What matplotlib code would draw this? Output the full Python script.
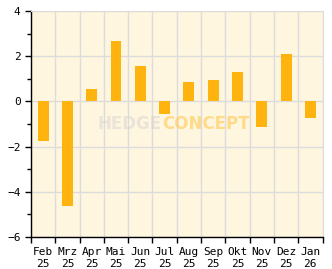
#!/usr/bin/env python
"""Monthly performance bar chart (HedgeConcept style)."""

import matplotlib as mpl
mpl.use('Agg')
import matplotlib.pyplot as plt
import numpy as np

MONTHS = ['Feb', 'Mrz', 'Apr', 'Mai', 'Jun', 'Jul',
          'Aug', 'Sep', 'Okt', 'Nov', 'Dez', 'Jan']
YEARS = ['25', '25', '25', '25', '25', '25',
         '25', '25', '25', '25', '25', '26']
RETURNS = [-1.74, -4.61, 0.55, 2.67, 1.57, -0.55,
           0.86, 0.95, 1.3, -1.13, 2.1, -0.72]

BAR_COLOR = '#ffb30f'
BG_COLOR = '#fff6df'
GRID_COLOR = '#dcdcdc'

fig = plt.figure(figsize=(3.32, 2.69), dpi=100, facecolor='white')
ax = fig.add_axes([0.0934, 0.119, 0.878, 0.840])
ax.set_facecolor(BG_COLOR)

x = np.arange(len(RETURNS)) + 0.5
ax.bar(x, RETURNS, width=0.45, color=BAR_COLOR, zorder=3)

ax.set_xlim(0, len(RETURNS))
ax.set_ylim(-6, 4)

# grid on cell boundaries, labels in the middle of each cell
ax.set_xticks(np.arange(len(RETURNS) + 1))
ax.set_xticklabels([])
ax.set_xticks(x, minor=True)
ax.set_xticklabels(['{}\n{}'.format(m, y) for m, y in zip(MONTHS, YEARS)],
                   minor=True)
ax.set_yticks(np.arange(-6, 5, 2))
ax.set_yticks(np.arange(-5, 4, 2), minor=True)

ax.tick_params(axis='x', which='major', length=4, width=1, direction='out')
ax.tick_params(axis='x', which='minor', length=0, pad=7, labelsize=8)
ax.tick_params(axis='y', which='major', length=4, width=1, labelsize=8)
ax.tick_params(axis='y', which='minor', length=3, width=1)
for lbl in ax.get_xticklabels(minor=True) + ax.get_yticklabels():
    lbl.set_family('DejaVu Sans Mono')
    lbl.set_linespacing(1.3)

ax.grid(True, which='major', color=GRID_COLOR, linewidth=1, zorder=1)
ax.set_axisbelow(True)

for side in ('top', 'right'):
    ax.spines[side].set_color(GRID_COLOR)
for side in ('left', 'bottom'):
    ax.spines[side].set_color('black')
    ax.spines[side].set_linewidth(1)

# watermark
ax.text(0.449, 0.5, 'HEDGE', transform=ax.transAxes, ha='right',
        va='center', fontsize=12, fontweight='bold', color='#cfcfcf',
        alpha=0.45, zorder=4)
ax.text(0.449, 0.5, 'CONCEPT', transform=ax.transAxes, ha='left',
        va='center', fontsize=12, fontweight='bold', color='#ffc850',
        alpha=0.6, zorder=4)

plt.savefig('out.png', dpi=100, facecolor='white')
